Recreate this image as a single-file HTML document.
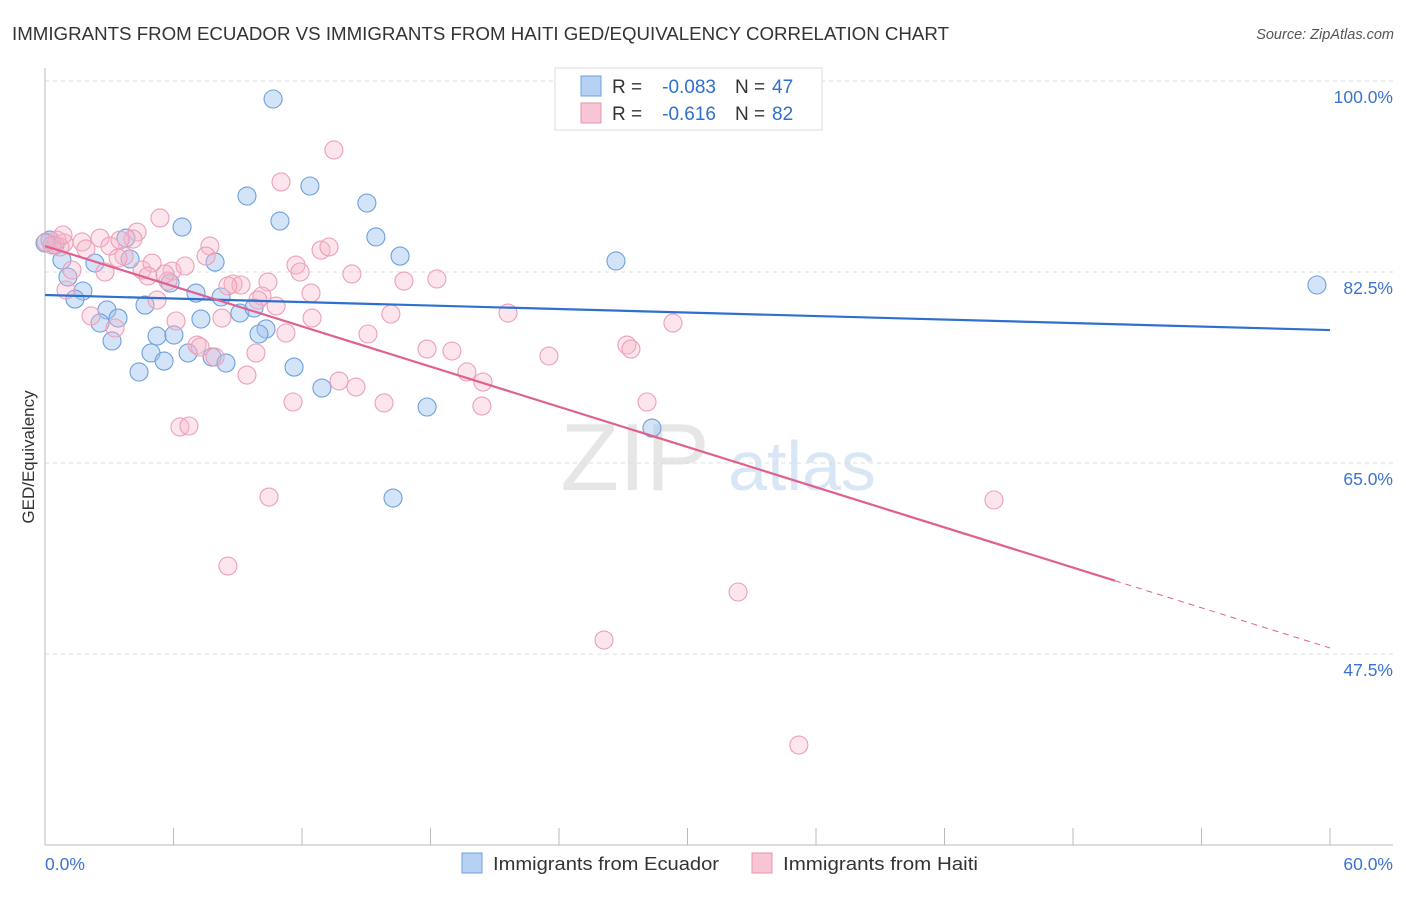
<!DOCTYPE html>
<html><head><meta charset="utf-8"><style>
body{margin:0;background:#fff;font-family:"Liberation Sans",sans-serif;}
svg text{font-family:"Liberation Sans",sans-serif;}
</style></head><body>
<svg id="chart" width="1406" height="892">
<text x="12" y="40" font-size="18" fill="#333" textLength="937" lengthAdjust="spacingAndGlyphs">IMMIGRANTS FROM ECUADOR VS IMMIGRANTS FROM HAITI GED/EQUIVALENCY CORRELATION CHART</text>
<text x="1394" y="39" font-size="14.5" fill="#555" text-anchor="end" font-style="italic">Source: ZipAtlas.com</text>
<text x="34" y="457" font-size="17" fill="#333" text-anchor="middle" transform="rotate(-90 34 457)">GED/Equivalency</text>
<g><text x="635" y="490" font-size="96" fill="#e6e6e6" text-anchor="middle" font-family="Liberation Serif">ZIP</text><text x="802" y="490" font-size="70" fill="#d8e6f6" text-anchor="middle">atlas</text></g>
<g id="grid"></g><g id="axes"></g><g id="pts"></g><g id="trends"></g>
<g>
<rect x="555" y="68" width="267" height="62" fill="#fff" stroke="#ddd"/>
<rect x="581" y="76" width="20" height="20" fill="#b6d1f3" stroke="#6fa0dc"/>
<rect x="581" y="103" width="20" height="20" fill="#f8c5d4" stroke="#e995b0"/>
<text x="612" y="93" font-size="19" fill="#333">R =</text>
<text x="716" y="93" font-size="19" fill="#2f6fd0" text-anchor="end">-0.083</text>
<text x="735" y="93" font-size="19" fill="#333">N =</text>
<text x="772" y="93" font-size="19" fill="#2f6fd0">47</text>
<text x="612" y="120" font-size="19" fill="#333">R =</text>
<text x="716" y="120" font-size="19" fill="#2f6fd0" text-anchor="end">-0.616</text>
<text x="735" y="120" font-size="19" fill="#333">N =</text>
<text x="772" y="120" font-size="19" fill="#2f6fd0">82</text>
</g>
<g>
<rect x="462" y="853" width="20" height="20" fill="#b6d1f3" stroke="#6fa0dc"/>
<text x="493" y="870" font-size="18" fill="#333" textLength="226" lengthAdjust="spacingAndGlyphs">Immigrants from Ecuador</text>
<rect x="752" y="853" width="20" height="20" fill="#f8c5d4" stroke="#e995b0"/>
<text x="783" y="870" font-size="18" fill="#333" textLength="195" lengthAdjust="spacingAndGlyphs">Immigrants from Haiti</text>
</g>
</svg>
<script>
const yTicks=[100,82.5,65,47.5];
const yTickLabels=["100.0%","82.5%","65.0%","47.5%"];
const xTickLabels=["0.0%","60.0%"];
const ecuadorX=[10.65,12.37,9.43,15.03,10.97,6.40,15.45,3.78,16.58,26.66,59.39,0.79,2.33,3.97,7.94,5.84,1.07,1.77,1.40,2.89,7.05,8.22,4.67,3.41,2.57,9.10,9.76,7.28,5.23,6.02,10.32,9.99,3.13,4.95,6.68,5.56,7.80,8.45,4.39,11.63,12.93,17.84,28.34,16.25,0.23,0.47,0];
const ecuadorY=[98.35,90.38,89.46,88.82,87.17,86.62,85.71,85.61,83.96,83.51,81.31,83.60,83.32,83.69,83.41,81.49,82.04,80.76,80.02,79.02,80.57,80.21,79.47,78.28,77.83,78.74,79.20,78.19,76.63,76.73,77.28,76.82,76.18,75.08,75.08,74.34,74.71,74.16,73.34,73.79,71.87,70.13,68.20,61.79,85.43,84.97,85.16];
const haitiX=[13.49,11.02,5.37,4.30,1.73,2.57,4.11,7.70,12.89,13.26,3.03,3.69,7.52,4.53,0.89,0.70,0.56,1.26,1.91,5.00,5.93,6.54,5.74,4.81,3.41,2.80,0.98,8.78,9.15,10.41,11.72,11.91,14.33,16.76,18.30,8.54,10.13,10.79,12.42,9.94,5.23,2.15,3.27,6.12,8.26,12.47,16.15,21.62,29.32,15.08,11.25,7.10,7.24,7.94,9.85,17.84,19.00,23.53,27.17,27.36,19.70,20.45,13.73,14.52,9.43,11.58,15.83,20.40,28.11,6.30,6.72,10.46,44.31,8.54,32.36,26.10,35.20,0.05,0.33,0.84,3.50,5.60];
const haitiY=[93.68,90.75,87.45,86.16,85.25,85.61,85.52,84.88,84.51,84.79,84.88,83.96,83.96,82.68,85.16,84.79,85.43,82.68,84.61,83.32,82.59,83.05,81.67,82.13,83.78,82.50,80.85,81.40,81.31,81.58,83.14,82.50,82.32,81.67,81.86,81.22,80.30,79.38,80.57,79.93,79.93,78.47,77.37,78.01,78.28,78.28,78.65,78.74,77.83,76.82,76.91,75.81,75.63,74.71,75.08,75.44,75.26,74.80,75.81,75.44,73.34,72.42,72.51,71.96,73.06,70.59,70.50,70.22,70.59,68.30,68.39,61.88,61.61,55.56,53.18,48.78,39.16,85.25,84.97,85.89,85.43,82.32];
const ecuadorTrend=[80.39,77.18];
const haitiTrend=[84.88,48.05];
const haitiSolidEnd=49.96;
const NS="http://www.w3.org/2000/svg";
const X=v=>45+v/60*1285;
const Y=v=>81+(100-v)*191/17.5;
function mk(tag,attrs,parent){const e=document.createElementNS(NS,tag);for(const k in attrs)e.setAttribute(k,attrs[k]);document.getElementById(parent).appendChild(e);return e;}
yTicks.forEach((t,i)=>{
 const l=mk('line',{x1:45,x2:1393,y1:Y(t),y2:Y(t),stroke:'#ddd','stroke-dasharray':'4,4'},'grid');
 
 
 const tx=mk('text',{x:1393,y:Y(t)+22,'font-size':17.5,fill:'#3b73d1','text-anchor':'end'},'grid');
 tx.textContent=yTickLabels[i];
 
 
});
let a=mk('line',{x1:45,x2:45,y1:68,y2:845,stroke:'#bbb'},'axes');


a=mk('line',{x1:45,x2:1393,y1:845,y2:845,stroke:'#bbb'},'axes');


for(let i=0;i<=10;i++){const t=mk('line',{x1:X(i*6),x2:X(i*6),y1:828,y2:845,stroke:'#bbb'},'axes');
 
 }
[0,60].forEach((v,i)=>{const t=mk('text',{x:i?1393:45,y:870,'font-size':17.5,fill:'#3b73d1','text-anchor':i?'end':'start'},'axes');t.textContent=xTickLabels[i];
 
 });
ecuadorX.forEach((v,i)=>{const c=mk('circle',{cx:X(v),cy:Y(ecuadorY[i]),r:9,fill:'rgba(160,196,240,0.45)',stroke:'#6fa0dc','stroke-width':1.1},'pts');
 
 });
haitiX.forEach((v,i)=>{const c=mk('circle',{cx:X(v),cy:Y(haitiY[i]),r:9,fill:'rgba(246,180,200,0.35)',stroke:'#eba0b8','stroke-width':1.1},'pts');
 
 });
let t=mk('line',{x1:X(0),y1:Y(ecuadorTrend[0]),x2:X(60),y2:Y(ecuadorTrend[1]),stroke:'#2f6fd0','stroke-width':2.2},'trends');


const hy=x=>haitiTrend[0]+(haitiTrend[1]-haitiTrend[0])*x/60;
t=mk('line',{x1:X(0),y1:Y(hy(0)),x2:X(haitiSolidEnd),y2:Y(hy(haitiSolidEnd)),stroke:'#e0608e','stroke-width':2.2},'trends');


t=mk('line',{x1:X(haitiSolidEnd),y1:Y(hy(haitiSolidEnd)),x2:X(60),y2:Y(hy(60)),stroke:'#e0608e','stroke-width':1,'stroke-dasharray':'6,5'},'trends');


</script>
</body></html>
